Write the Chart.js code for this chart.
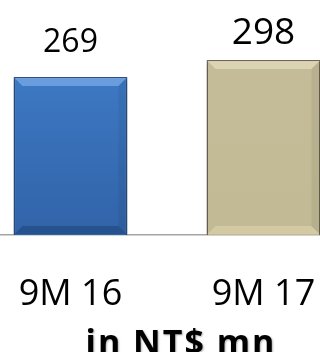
<!DOCTYPE html>
<html>
<head>
<meta charset="utf-8">
<script src="https://cdn.jsdelivr.net/npm/chart.js@4"></script>
<style>
  html, body { margin: 0; padding: 0; background: #fff; overflow: hidden; }
  #wrap { position: absolute; left: -26px; top: 0; width: 386px; height: 352px; }
</style>
</head>
<body>
<div id="wrap"><canvas id="revChart" width="386" height="352"></canvas></div>
<script>
// Revenue, nine months
const periods = ['9M 16', '9M 17'];
const revenue = [269, 298];
const unitLabel = 'in NT$ mn';

// per-bar look
const faceTop = ['#4383d0', '#c5bd99'];
const faceBottom = ['#3163a8', '#c2ba95'];
const edgeColors = ['#2b568c', '#776b5c'];
const bevelLight = ['rgba(120,170,230,0.75)', 'rgba(225,218,185,0.8)'];
const bevelDark = ['rgba(25,60,110,0.45)', 'rgba(215,206,168,0.8)'];
const valueSizes = [32, 37];
const valueGaps = [25, 16];

const fontFamily = '"Open Sans", "Noto Sans", sans-serif';

function barGradient(context) {
    const chart = context.chart;
    const area = chart.chartArea;
    if (!area) return faceTop[context.dataIndex];
    const g = chart.ctx.createLinearGradient(0, area.top, 0, area.bottom);
    g.addColorStop(0, faceTop[context.dataIndex]);
    g.addColorStop(1, faceBottom[context.dataIndex]);
    return g;
}

// soft drop shadow under the bars
const barShadow = {
    id: 'barShadow',
    beforeDatasetsDraw(chart) {
        const ctx = chart.ctx;
        ctx.save();
        ctx.shadowColor = 'rgba(0,0,0,0.35)';
        ctx.shadowBlur = 5;
        ctx.shadowOffsetX = 0;
        ctx.shadowOffsetY = 2;
    },
    afterDatasetsDraw(chart) {
        chart.ctx.restore();
    }
};

// bevel edges, value labels and the unit caption
const barDecor = {
    id: 'barDecor',
    afterDatasetsDraw(chart) {
        const ctx = chart.ctx;
        const meta = chart.getDatasetMeta(0);
        meta.data.forEach((bar, i) => {
            const p = bar.getProps(['x', 'y', 'base', 'width'], true);
            const l = p.x - p.width / 2 + 1, r = p.x + p.width / 2 - 1;
            const t = p.y + 1, b = p.base - 1;
            const s = 8;
            ctx.save();
            ctx.fillStyle = bevelLight[i];
            ctx.beginPath();
            ctx.moveTo(l, t); ctx.lineTo(r, t); ctx.lineTo(r - s, t + s); ctx.lineTo(l + s, t + s);
            ctx.closePath(); ctx.fill();
            ctx.fillStyle = bevelDark[i];
            ctx.beginPath();
            ctx.moveTo(l, b); ctx.lineTo(r, b); ctx.lineTo(r - s, b - s); ctx.lineTo(l + s, b - s);
            ctx.closePath(); ctx.fill();
            ctx.fillStyle = 'rgba(0,0,0,0.06)';
            ctx.beginPath();
            ctx.moveTo(r, t); ctx.lineTo(r, b); ctx.lineTo(r - s, b - s); ctx.lineTo(r - s, t + s);
            ctx.closePath(); ctx.fill();
            ctx.restore();

            ctx.save();
            ctx.fillStyle = '#000';
            ctx.font = valueSizes[i] + 'px ' + fontFamily;
            ctx.textAlign = 'center';
            ctx.textBaseline = 'alphabetic';
            ctx.fillText(String(revenue[i]), p.x, p.y - valueGaps[i]);
            ctx.restore();
        });

        const area = chart.chartArea;
        ctx.save();
        ctx.fillStyle = '#000';
        ctx.font = 'bold 34px ' + fontFamily;
        ctx.letterSpacing = '2px';
        ctx.textAlign = 'center';
        ctx.textBaseline = 'alphabetic';
        ctx.shadowColor = 'rgba(0,0,0,0.3)';
        ctx.shadowBlur = 2;
        ctx.shadowOffsetX = 1;
        ctx.shadowOffsetY = 1;
        ctx.fillText(unitLabel, (area.left + area.right) / 2 + 14, chart.height + 2);
        ctx.restore();
    }
};

new Chart(document.getElementById('revChart'), {
    type: 'bar',
    data: {
        labels: periods,
        datasets: [{
            data: revenue,
            backgroundColor: barGradient,
            borderColor: edgeColors,
            borderWidth: 1.5,
            categoryPercentage: 1,
            barPercentage: 0.59
        }]
    },
    options: {
        responsive: false,
        animation: false,
        layout: { padding: { top: 0, bottom: 37, left: 0, right: 0 } },
        plugins: {
            legend: { display: false },
            tooltip: { enabled: false }
        },
        scales: {
            x: {
                grid: { display: false, drawTicks: false },
                border: { display: true, color: '#a6a6a6', width: 1.5 },
                ticks: {
                    color: '#000',
                    padding: 38,
                    font: { family: fontFamily, size: 36, lineHeight: 1.2 }
                },
                afterFit(scale) {
                    scale.height = 80;
                }
            },
            y: {
                display: false,
                min: 0,
                max: 400
            }
        }
    },
    plugins: [barShadow, barDecor]
});
</script>
</body>
</html>
